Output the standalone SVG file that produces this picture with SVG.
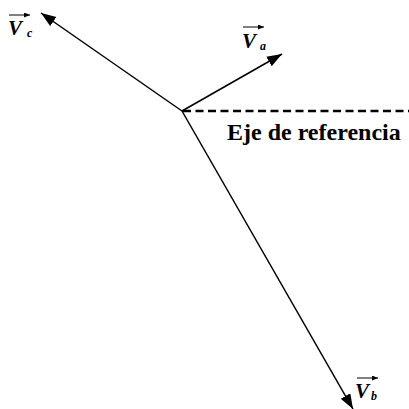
<svg xmlns="http://www.w3.org/2000/svg" width="409" height="409" viewBox="0 0 409 409">
<style>
.vec{stroke:#000;stroke-width:1.5;fill:none}
.ovl{stroke:#000;stroke-width:1;fill:none}
.lbl{font-family:"Liberation Serif","Times New Roman",serif;font-weight:bold;font-style:italic;fill:#000}
.sub{font-family:"Liberation Serif","Times New Roman",serif;font-weight:bold;font-style:italic;fill:#000;font-size:12px}
.axis{font-family:"Liberation Serif","Times New Roman",serif;font-weight:bold;font-size:24px;fill:#000}
</style>
<defs>
<marker id="ah" markerUnits="userSpaceOnUse" markerWidth="16" markerHeight="12" refX="15" refY="5.5" orient="auto">
<path d="M0,0 L15,5.5 L0,11 z" fill="#000"/>
</marker>
<marker id="sa" markerUnits="userSpaceOnUse" markerWidth="6" markerHeight="5" refX="6" refY="2.5" orient="auto">
<path d="M0,0 L6,2.5 L0,5 z" fill="#000"/>
</marker>
</defs>
<g id="connectors">
<line class="vec" x1="182" y1="111" x2="41" y2="13" marker-end="url(#ah)"/>
<line class="vec" x1="182" y1="111" x2="282" y2="54" marker-end="url(#ah)"/>
<line class="vec" x1="182" y1="111" x2="353" y2="409" marker-end="url(#ah)"/>
<line x1="183" y1="111" x2="409" y2="111" stroke="#000" stroke-width="2.5" stroke-dasharray="8 4.5"/>
</g>
<g id="Vc">
<line class="ovl" x1="9" y1="15" x2="30" y2="15" marker-end="url(#sa)"/>
<text class="lbl" x="8" y="35" font-size="21">V</text>
<text class="sub" x="27" y="37">c</text>
</g>
<g id="Va">
<line class="ovl" x1="243" y1="27" x2="264" y2="27" marker-end="url(#sa)"/>
<text class="lbl" x="242" y="48" font-size="21">V</text>
<text class="sub" x="260" y="50">a</text>
</g>
<g id="Vb">
<line class="ovl" x1="357" y1="378" x2="378" y2="378" marker-end="url(#sa)"/>
<text class="lbl" x="355" y="398" font-size="21">V</text>
<text class="sub" x="371" y="400">b</text>
</g>
<g id="eje">
<text class="axis" x="227" y="140">Eje de referencia</text>
</g>
</svg>
